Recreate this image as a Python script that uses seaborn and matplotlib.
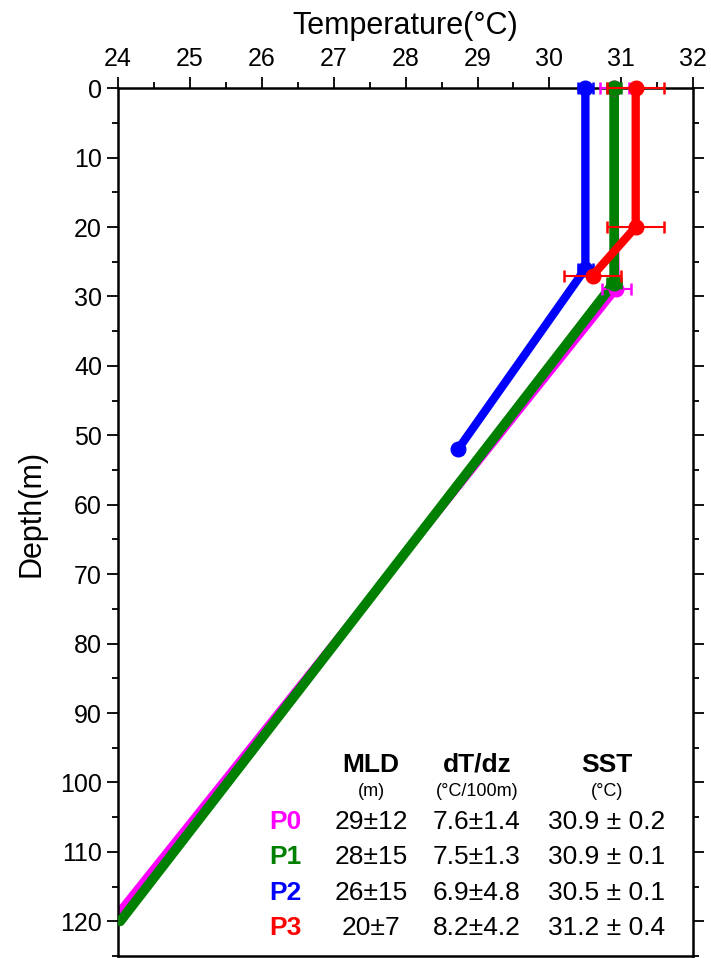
import numpy as np
import pandas as pd
import matplotlib
matplotlib.use("Agg")
import matplotlib.pyplot as plt
import seaborn as sns

# Temperature profiles (line vertices) for each group
names = ["P0", "P1", "P2", "P3"]
colors = ["#ff00ff", "#008000", "#0000ff", "#ff0000"]

p0_temp = [30.9, 30.93, 23.98]
p0_depth = [0, 29, 119]
p1_temp = [30.9, 30.9, 24.03]
p1_depth = [0, 28, 120]
p2_temp = [30.5, 30.5, 28.73]
p2_depth = [0, 26, 52]
p3_temp = [31.2, 31.2, 30.6]
p3_depth = [0, 20, 27]

# observed points with temperature error (+/-)
p0_obs_temp = [30.9, 30.93]
p0_obs_depth = [0, 29]
p0_obs_err = [0.2, 0.2]
p1_obs_temp = [30.9, 30.9]
p1_obs_depth = [0, 28]
p1_obs_err = [0.1, 0.1]
p2_obs_temp = [30.5, 30.5, 28.73]
p2_obs_depth = [0, 26, 52]
p2_obs_err = [0.1, 0.1, 0.05]
p3_obs_temp = [31.2, 31.2, 30.6]
p3_obs_depth = [0, 20, 27]
p3_obs_err = [0.4, 0.4, 0.4]

# summary table
mld_vals = ["29±12", "28±15", "26±15", "20±7"]
dtdz_vals = ["7.6±1.4", "7.5±1.3", "6.9±4.8", "8.2±4.2"]
sst_vals = ["30.9 ± 0.2", "30.9 ± 0.1", "30.5 ± 0.1", "31.2 ± 0.4"]

lines = [(p0_temp, p0_depth), (p1_temp, p1_depth), (p2_temp, p2_depth), (p3_temp, p3_depth)]
obs = [(p0_obs_temp, p0_obs_depth, p0_obs_err), (p1_obs_temp, p1_obs_depth, p1_obs_err),
       (p2_obs_temp, p2_obs_depth, p2_obs_err), (p3_obs_temp, p3_obs_depth, p3_obs_err)]
widths = [5, 7, 6, 6]
line_z = [2, 3, 6, 8]
mark_z = [4, 5, 7, 9]

sns.set_style("ticks")
plt.rcParams['font.family'] = ['Liberation Sans', 'DejaVu Sans']
plt.rcParams['text.color'] = 'black'
plt.rcParams['axes.labelcolor'] = 'black'
plt.rcParams['xtick.color'] = 'black'
plt.rcParams['ytick.color'] = 'black'
plt.rcParams['axes.edgecolor'] = 'black'

fig = plt.figure(figsize=(7.11, 9.58), dpi=100)
ax = fig.add_axes([0.166, 0.002, 0.809, 0.906])

for i, name in enumerate(names):
    df = pd.DataFrame({"temp": lines[i][0], "depth": lines[i][1]})
    sns.lineplot(data=df, x="temp", y="depth", sort=False, estimator=None, color=colors[i],
                 linewidth=widths[i], ax=ax, zorder=line_z[i])
    t, d, e = obs[i]
    ax.errorbar(t, d, xerr=e, fmt="o", color=colors[i], markersize=10.5,
                elinewidth=1.5, capsize=4, capthick=1.8, zorder=mark_z[i], clip_on=False)

ax.set_xlim(24, 32)
ax.set_ylim(125, 0)
ax.set_xticks(np.arange(24, 33, 1))
ax.set_xticks(np.arange(24, 32.5, 0.5), minor=True)
ax.set_yticks(np.arange(0, 121, 10))
ax.set_yticks(np.arange(0, 126, 5), minor=True)

ax.xaxis.set_label_position("top")
ax.tick_params(axis="x", which="both", top=True, labeltop=True, bottom=False, labelbottom=False,
               direction="out", labelsize=18, pad=4)
ax.tick_params(axis="y", which="both", left=True, right=True, labelleft=True, direction="out",
               labelsize=18)
ax.tick_params(which="major", length=8, width=1.3)
ax.tick_params(which="minor", length=4, width=1.3)
for s in ax.spines.values():
    s.set_visible(True)
    s.set_linewidth(1.8)

ax.set_xlabel("Temperature(°C)", fontsize=22, labelpad=10)
ax.set_ylabel("Depth(m)", fontsize=22)
ax.yaxis.set_label_coords(-0.125, 0.51)

# table of summary stats
col_x = [371 / 711, 477 / 711, 607 / 711]
hdr_y = 1 - 765 / 958
unit_y = 1 - 792 / 958
row_y = [1 - y / 958 for y in (822, 857, 893, 928)]
for cx, h, u in zip(col_x, ["MLD", "dT/dz", "SST"], ["(m)", "(°C/100m)", "(°C)"]):
    fig.text(cx, hdr_y, h, fontsize=19, fontweight="bold", ha="center", va="center")
    fig.text(cx, unit_y, u, fontsize=13, ha="center", va="center")
for i, name in enumerate(names):
    fig.text(285 / 711, row_y[i], name, fontsize=19, fontweight="bold", color=colors[i],
             ha="center", va="center")
    for cx, v in zip(col_x, [mld_vals[i], dtdz_vals[i], sst_vals[i]]):
        fig.text(cx, row_y[i], v, fontsize=19, ha="center", va="center")

plt.savefig("out.png", dpi=100)
